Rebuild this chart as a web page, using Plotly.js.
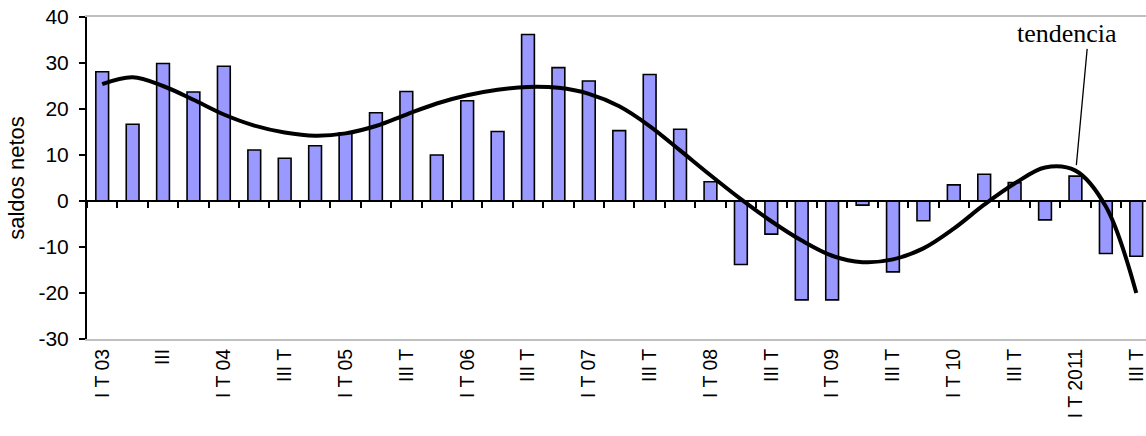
<!DOCTYPE html>
<html>
<head>
<meta charset="utf-8">
<script src="https://cdn.plot.ly/plotly-3.0.1.min.js"></script>
<style>
html,body{margin:0;padding:0;background:#fff;overflow:hidden;}
#chart{width:1146px;height:436px;}
</style>
</head>
<body>
<div id="chart"></div>
<script>
// 35 quarters: I T 2003 ... III T 2011
var quarterIndex = [0,1,2,3,4,5,6,7,8,9,10,11,12,13,14,15,16,17,18,19,20,21,22,23,24,25,26,27,28,29,30,31,32,33,34];
var saldos = [28.1,16.7,29.9,23.7,29.3,11.1,9.3,12.0,14.8,19.2,
              23.8,10.0,21.8,15.1,36.2,29.0,26.1,15.3,27.5,15.6,
              4.2,-13.8,-7.2,-21.5,-21.5,-0.9,-15.4,-4.3,3.5,5.8,
              4.0,-4.1,5.4,-11.4,-12.0];
var tendencia = [25.4,26.9,25.0,22.0,18.8,16.4,14.9,14.2,14.7,16.3,
                 18.8,21.2,23.0,24.2,24.8,24.6,23.3,20.6,16.3,11.0,
                 5.6,0.4,-4.4,-8.6,-11.9,-13.3,-12.7,-10.3,-6.0,-0.8,
                 3.8,7.3,6.6,-1.2,-20.0];
var tickIndex = [0,2,4,6,8,10,12,14,16,18,20,22,24,26,28,30,32,34];
var tickLabels = ['I T 03','III','I T 04','III T','I T 05','III T','I T 06','III T','I T 07','III T',
                  'I T 08','III T','I T 09','III T','I T 10','III T','I T 2011','III T'];
var yTicks = [-30,-20,-10,0,10,20,30,40];

var sans = 'Liberation Sans, Arial, sans-serif';
var serif = 'Liberation Serif, Times New Roman, serif';
var xr = [-0.5, 34.32];

var bars = {
  type:'bar', x: quarterIndex, y: saldos,
  marker:{color:'#9999ff', line:{color:'#000', width:1.6}},
  hoverinfo:'skip', showlegend:false
};
var trend = {
  type:'scatter', mode:'lines', x: quarterIndex, y: tendencia,
  xaxis:'x2', yaxis:'y',
  line:{color:'#000', width:4, shape:'spline', smoothing:1},
  hoverinfo:'skip', showlegend:false
};

var layout = {
  width:1146, height:436,
  margin:{l:87, r:0, t:17, b:97},
  paper_bgcolor:'#fff', plot_bgcolor:'#fff',
  bargap:0.58,
  font:{family:sans, size:21, color:'#000'},
  xaxis:{
    range:xr, tickmode:'array', tickvals:tickIndex, ticktext:tickLabels,
    tickangle:-90, ticks:'', showgrid:false, zeroline:false,
    showline:true, linecolor:'#c0c0c0', linewidth:2, mirror:true,
    ticklabeloverflow:'allow',
    tickfont:{family:sans, size:19.5, color:'#000'}
  },
  xaxis2:{
    range:xr, overlaying:'x', anchor:'free', position:3/7,
    tickmode:'linear', tick0:-0.5, dtick:1,
    ticks:'outside', ticklen:6, tickwidth:2, tickcolor:'#000',
    showticklabels:false, showgrid:false, zeroline:false,
    showline:true, linecolor:'#000', linewidth:2
  },
  yaxis:{
    range:[-30,40], tickmode:'array', tickvals:yTicks, ticktext:yTicks.map(String),
    ticks:'outside', ticklen:6, tickwidth:2, tickcolor:'#000',
    ticklabelstandoff:6,
    showline:true, linecolor:'#000', linewidth:2,
    showgrid:false, zeroline:false,
    tickfont:{family:sans, size:21, color:'#000'},
    title:{text:'saldos netos', font:{family:sans, size:22, color:'#000'}, standoff:8}
  },
  annotations:[
    {xref:'x', yref:'y', x:31.72, y:36.5, text:'tendencia', showarrow:false,
     font:{family:serif, size:26, color:'#000'}},
    {xref:'x', yref:'y', x:32.03, y:7.8, axref:'x', ayref:'y', ax:32.39, ay:33.4,
     text:'', showarrow:true, arrowhead:0, arrowwidth:1.3, arrowcolor:'#000',
     standoff:0, startstandoff:0}
  ]
};

Plotly.newPlot('chart', [bars, trend], layout, {displayModeBar:false, staticPlot:true});
</script>
</body>
</html>
